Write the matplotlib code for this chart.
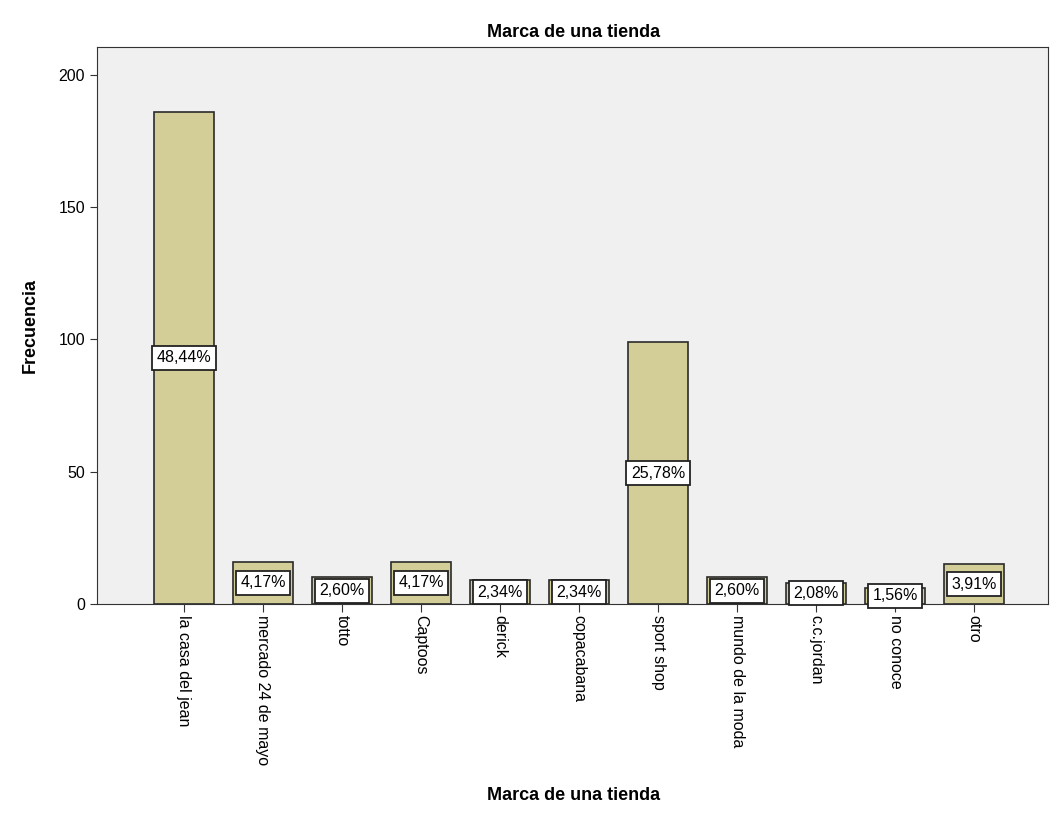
import numpy as np
import matplotlib
matplotlib.use("Agg")
import matplotlib.pyplot as plt

# datos de la tabla de frecuencias
tiendas = ["la casa del jean", "mercado 24 de mayo", "totto", "Captoos", "derick",
           "copacabana", "sport shop", "mundo de la moda", "c.c.jordan", "no conoce", "otro"]
frecuencia = [186, 16, 10, 16, 9, 9, 99, 10, 8, 6, 15]
porcentaje = ["48,44%", "4,17%", "2,60%", "4,17%", "2,34%", "2,34%",
              "25,78%", "2,60%", "2,08%", "1,56%", "3,91%"]

plt.rcParams['font.family'] = ['Liberation Sans', 'DejaVu Sans']

fig = plt.figure(figsize=(10.5, 8.33), dpi=100)
ax = fig.add_axes([0.0924, 0.275, 0.906, 0.6686])
ax.set_facecolor('#f0f0f0')

x = np.arange(len(tiendas))
ax.bar(x, frecuencia, width=0.76, color='#d3ce97', edgecolor='#2b2b2b', linewidth=1.2, zorder=2)

# etiquetas de porcentaje en el centro de cada barra
for xi, f, p in zip(x, frecuencia, porcentaje):
    ax.text(xi, f / 2, p, ha='center', va='center', fontsize=11.5, zorder=3,
            bbox=dict(boxstyle='square,pad=0.28', facecolor='white', edgecolor='#222222', linewidth=1.3))

ax.set_xlim(-1.1, 10.94)
ax.set_ylim(0, 210.6)
ax.set_yticks([0, 50, 100, 150, 200])
ax.set_xticks(x)
ax.set_xticklabels(tiendas, rotation=-90, va='top', ha='center', fontsize=11.5)
ax.tick_params(axis='y', labelsize=11.5, length=5, color='#333333')
ax.tick_params(axis='x', length=6, color='#333333', pad=2)
for s in ax.spines.values():
    s.set_color('#333333')

ax.set_ylabel("Frecuencia", fontsize=13, fontweight='bold', labelpad=14)
fig.text(0.546, 0.04, "Marca de una tienda", ha='center', fontsize=13, fontweight='bold')
fig.text(0.546, 0.955, "Marca de una tienda", ha='center', fontsize=13, fontweight='bold')

plt.savefig("out.png", dpi=100)
